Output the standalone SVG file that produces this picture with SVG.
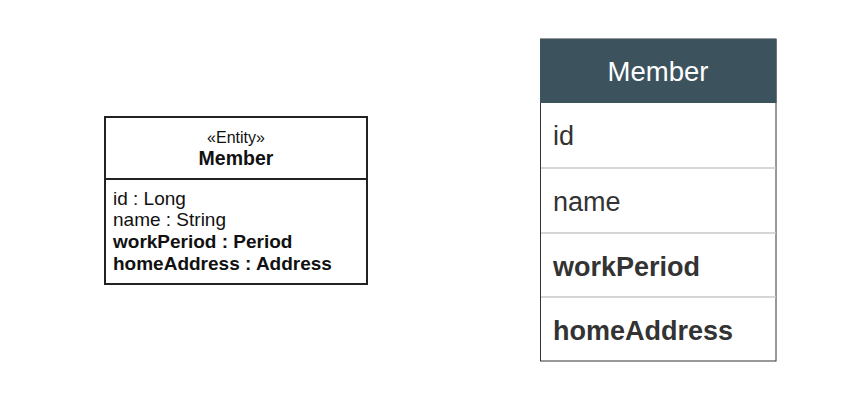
<svg xmlns="http://www.w3.org/2000/svg" width="860" height="402" viewBox="0 0 860 402">
<style>
.uml{fill:#fff;stroke:#222;stroke-width:2}
.uline{stroke:#222;stroke-width:2}
.t{font-family:"Liberation Sans",Arial,sans-serif;fill:#111}
.ster{font-size:16px}
.cname{font-size:19.5px;font-weight:bold}
.attr{font-size:19px}
.b{font-weight:bold}
.hdr{fill:#3c535e}
.tbl{fill:#fff;stroke:#333;stroke-width:1}
.row{stroke:#c8c8c8;stroke-width:1.5}
.ht{font-family:"Liberation Sans",Arial,sans-serif;font-size:27.5px;fill:#fff}
.rt{font-family:"Liberation Sans",Arial,sans-serif;font-size:27px;fill:#333}
</style>
<rect width="860" height="402" fill="#fff"/>
<g id="uml-member">
<rect class="uml" x="105" y="117" width="262" height="167"/>
<line class="uline" x1="105" y1="179" x2="367" y2="179"/>
<text class="t ster" x="236" y="143" text-anchor="middle">«Entity»</text>
<text class="t cname" x="236" y="165" text-anchor="middle">Member</text>
<text class="t attr" x="113" y="205">id : Long</text>
<text class="t attr" x="113" y="226">name : String</text>
<text class="t attr b" x="113" y="248">workPeriod : Period</text>
<text class="t attr b" x="113" y="270">homeAddress : Address</text>
</g>
<g id="table-member">
<rect class="tbl" x="540.5" y="39" width="235.5" height="322"/>
<rect class="hdr" x="540" y="39" width="236.5" height="64"/>
<line class="row" x1="541" y1="168" x2="776" y2="168"/>
<line class="row" x1="541" y1="233" x2="776" y2="233"/>
<line class="row" x1="541" y1="297" x2="776" y2="297"/>
<text class="ht" x="658" y="81" text-anchor="middle">Member</text>
<text class="rt" x="553" y="145">id</text>
<text class="rt" x="553" y="211">name</text>
<text class="rt b" x="553" y="276">workPeriod</text>
<text class="rt b" x="553" y="340">homeAddress</text>
</g>
</svg>
